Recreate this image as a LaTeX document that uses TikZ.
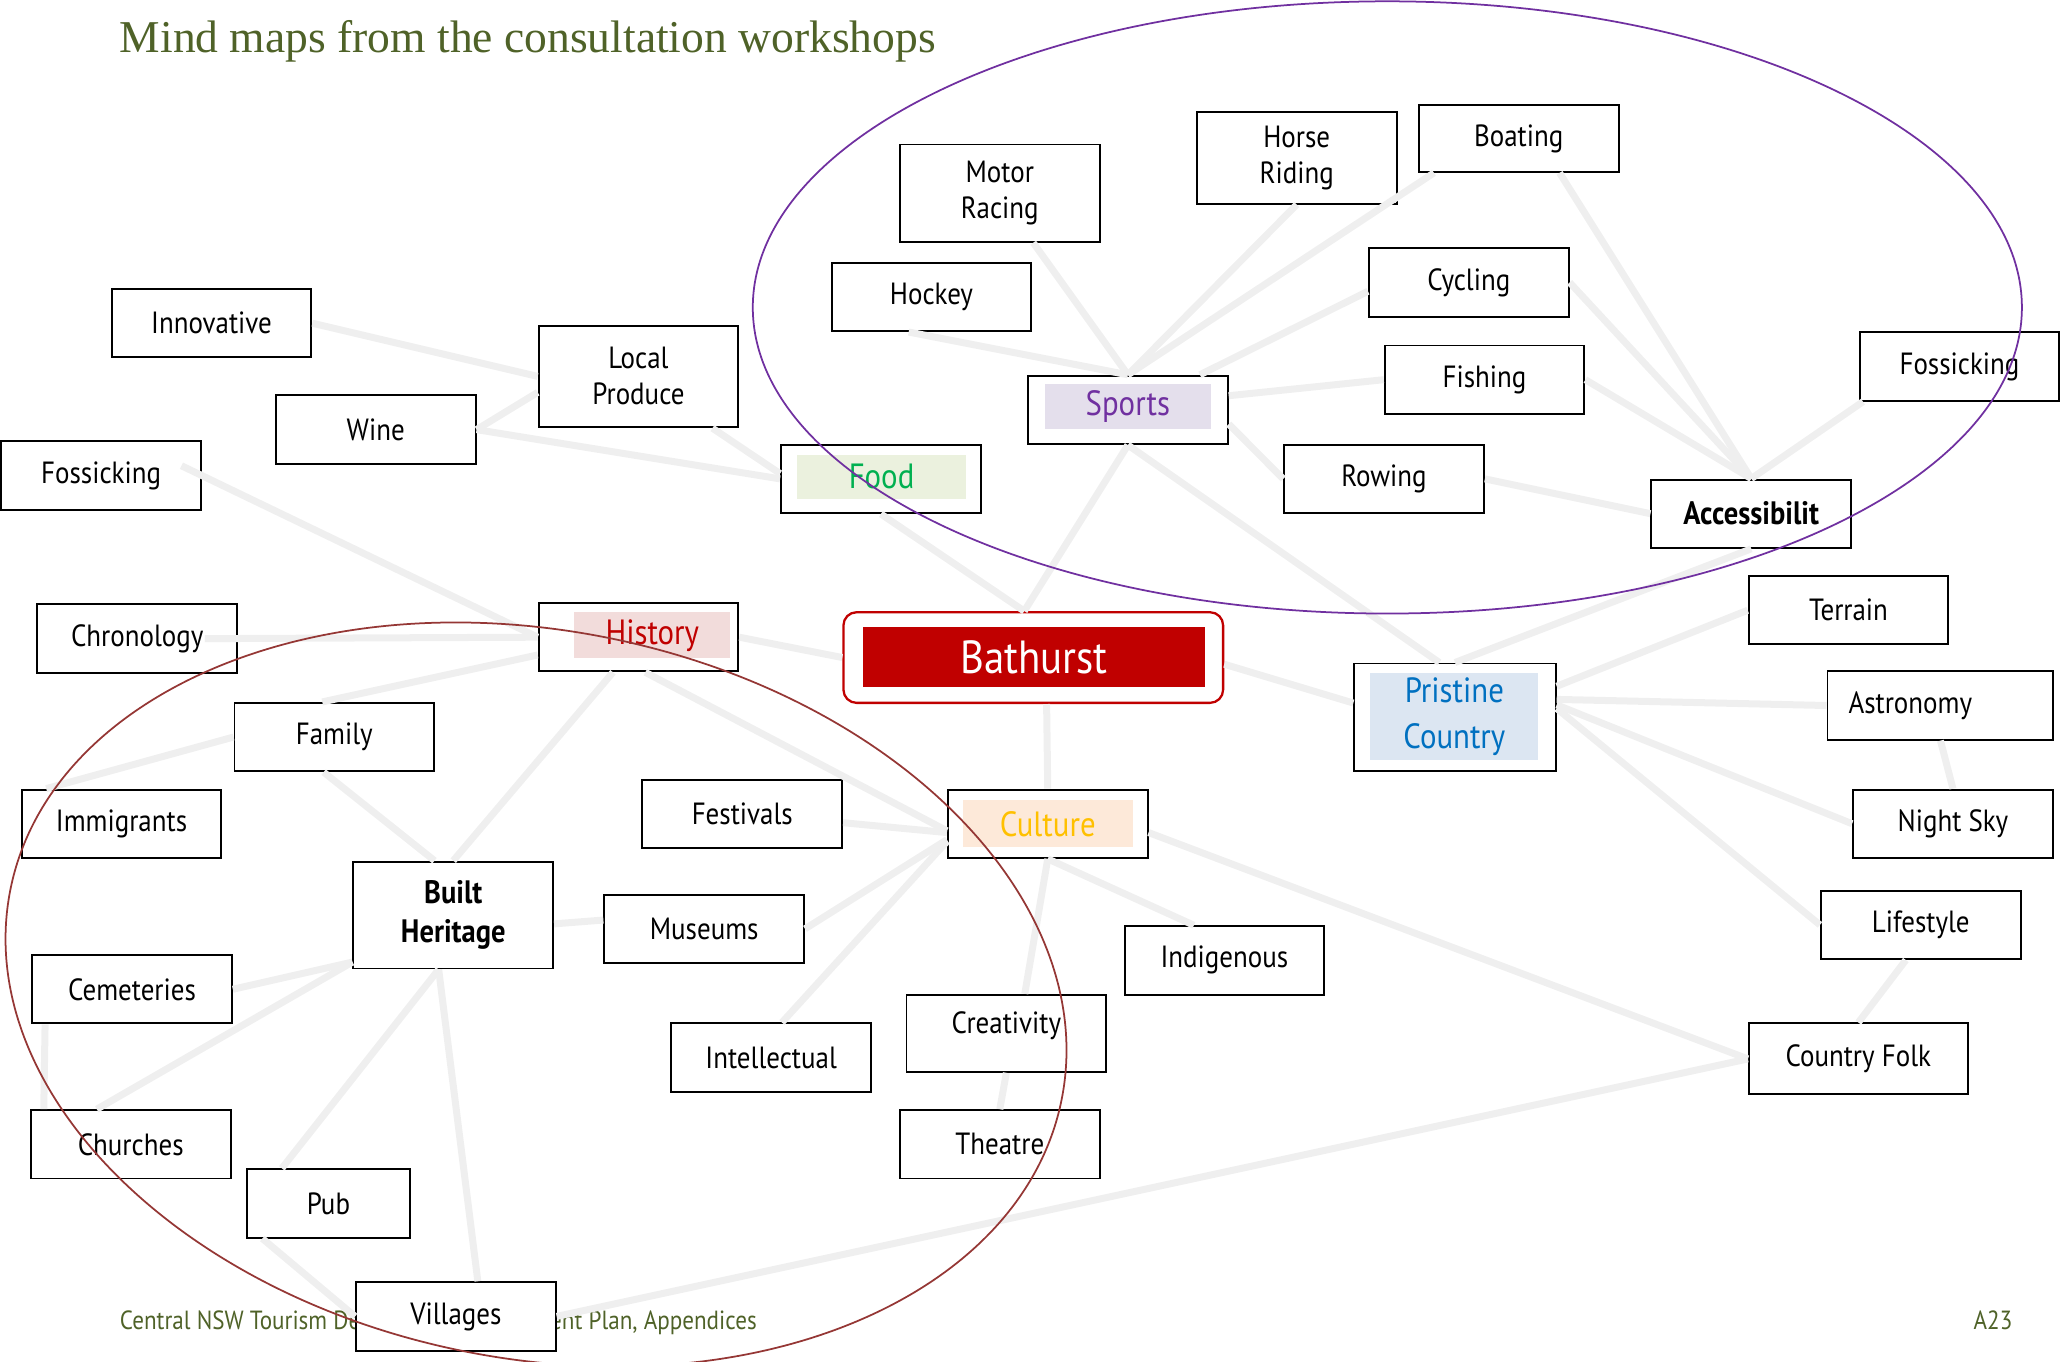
\documentclass[tikz,border=0pt]{standalone}
\usepackage{fontspec}
\setmainfont{PT Sans}[FakeStretch=0.88]
\newfontfamily\titlefont{Liberation Serif}

\definecolor{linkgrey}{HTML}{EFEFEF}
\definecolor{olive}{HTML}{4F6228}
\definecolor{sportsfill}{HTML}{E4DFEC}
\definecolor{sportstext}{HTML}{7030A0}
\definecolor{foodfill}{HTML}{EBF1DE}
\definecolor{foodtext}{HTML}{00B050}
\definecolor{historyfill}{HTML}{F2DCDB}
\definecolor{historytext}{HTML}{C00000}
\definecolor{culturefill}{HTML}{FDE9D9}
\definecolor{culturetext}{HTML}{FFC000}
\definecolor{pristinefill}{HTML}{DCE6F2}
\definecolor{pristinetext}{HTML}{0070C0}
\definecolor{bathred}{HTML}{C00000}
\definecolor{ringred}{HTML}{953735}

\tikzset{
  idea/.style={draw, fill=white, line width=1.1pt, minimum width=114pt,
    minimum height=39pt, inner sep=0pt, align=center,
    font=\fontsize{17.5}{20.5}\selectfont},
  keyidea/.style={idea, font=\fontsize{18.5}{22.5}\selectfont\bfseries},
  band/.style={fill=#1, inner sep=0pt, align=center,
    font=\fontsize{20}{26}\selectfont},
  link/.style={draw=linkgrey, line width=4pt},
  ring/.style={draw=#1, line width=1pt},
  pagetext/.style={anchor=base west, inner sep=0pt, text=olive},
}

\begin{document}
\begin{tikzpicture}[x=0.75pt, y=-0.75pt]
  \useasboundingbox (0,0) rectangle (1568,1036);

  \node[pagetext, font=\titlefont\fontsize{26}{30}\selectfont]
    (title) at (91,40) {Mind maps from the consultation workshops};
  \node[pagetext, font=\fontsize{15}{17}\selectfont]
    (footer) at (91,1012) {Central NSW Tourism Destination Management Plan, Appendices};
  \node[pagetext, font=\fontsize{15}{17}\selectfont]
    (page) at (1502,1012) {A23};

  % sports cluster
  \node[idea, minimum height=55.5pt] (motor) at (761,147) {Motor\\Racing};
  \node[idea, minimum height=52.5pt] (horse) at (987,120) {Horse\\Riding};
  \node[idea, minimum height=38pt] (boat) at (1156,105.5) {Boating};
  \node[idea] (hockey) at (709,226) {Hockey};
  \node[idea] (cycle) at (1118,215) {Cycling};
  \node[idea] (fish) at (1130,289) {Fishing};
  \node[idea] (rowing) at (1053.5,364.5) {Rowing};
  \node[idea] (fossR) at (1491.5,279) {Fossicking};
  \node[keyidea] (access) at (1333,391) {Accessibilit};
  \node[idea] (sports) at (858.5,312) {};
  \node[band=sportsfill, text=sportstext, minimum width=95pt, minimum height=26pt]
    (sportsIn) at (858.5,309.5) {Sports};

  % food cluster
  \node[idea] (innov) at (161,246) {Innovative};
  \node[idea, minimum height=58pt] (prod) at (486,286.5) {Local\\Produce};
  \node[idea] (wine) at (286,327) {Wine};
  \node[idea] (food) at (670.5,364.5) {};
  \node[band=foodfill, text=foodtext, minimum width=96pt, minimum height=25.5pt]
    (foodIn) at (671,363) {Food};

  % history cluster
  \node[idea] (fossL) at (77,362) {Fossicking};
  \node[idea] (chrono) at (104.5,486) {Chronology};
  \node[idea] (history) at (486,485) {};
  \node[band=historyfill, text=historytext, minimum width=89pt, minimum height=26pt]
    (historyIn) at (496.5,483.5) {History};
  \node[idea] (family) at (254.5,561) {Family};
  \node[idea] (immig) at (92.5,627) {Immigrants};
  \node[keyidea, minimum height=61pt] (built) at (345,696.5) {Built\\Heritage};
  \node[idea] (cemet) at (100.5,753) {Cemeteries};
  \node[idea] (church) at (99.5,871) {Churches};
  \node[idea, minimum width=93pt] (pub) at (250,916) {Pub};
  \node[idea] (village) at (347,1002) {Villages};

  % culture cluster
  \node[idea] (fest) at (565,619.5) {Festivals};
  \node[idea] (museum) at (536,707) {Museums};
  \node[idea] (intel) at (587,805) {Intellectual};
  \node[idea] (culture) at (797.5,627) {};
  \node[band=culturefill, text=culturetext, minimum width=97pt, minimum height=27pt]
    (cultureIn) at (797.5,627) {Culture};
  \node[idea] (indig) at (932,731) {Indigenous};
  \node[idea, minimum height=44pt, text depth=12pt] (creat) at (766,786.5) {Creativity};
  \node[idea] (theatre) at (761,871) {Theatre};

  % country cluster
  \node[idea] (terrain) at (1407,464.5) {Terrain};
  \node[idea, minimum width=115pt, minimum height=61.5pt] (pristine) at (1107.5,546) {};
  \node[band=pristinefill, text=pristinetext, minimum width=96pt, minimum height=50pt]
    (pristineIn) at (1107,545.5) {Pristine\\Country};
  \node[idea, inner xsep=12pt, text width=105pt, align=left] (astro) at (1477,537) {Astronomy};
  \node[idea] (nightsky) at (1486.5,627) {Night Sky};
  \node[idea] (life) at (1462,704) {Lifestyle};
  \node[idea, minimum width=125pt, minimum height=40.5pt] (folk) at (1414.5,806) {Country Folk};

  % centre
  \node[draw=bathred, fill=white, line width=1.3pt, rounded corners=7.5pt,
    minimum width=216.75pt, minimum height=51.75pt] (bath) at (786.5,500.5) {};
  \node[fill=bathred, text=white, inner sep=0pt, minimum width=195pt,
    minimum height=34.5pt, font=\fontsize{26.5}{30}\selectfont]
    (bathIn) at (787,500) {Bathurst};

  % links
  \draw[link] (innov.east) -- (prod.west);
  \draw[link] (wine.east) -- (prod.189);
  \draw[link] (wine.east) -- (food.west);
  \draw[link] (prod.-35) -- (food.177);
  \draw[link, shorten <=-13pt] (fossL.east) -- (history.west);
  \draw[link, shorten <=-19pt] (chrono.east) -- (history.west);
  \draw[link] (family.109) -- (history.190);
  \draw[link] (family.west) -- (immig.155);
  \draw[link] (family.-107) -- (built.109);
  \draw[link] (history.-126) -- (built.north);
  \draw[link] (history.-79) -- (culture.184);
  \draw[link] (history.east) -- (bath.west);
  \draw[link] (food.south) -- (bath.101);
  \draw[link] (sports.south) -- (bath.101);
  \draw[link] (sports.south) -- (pristine.106);
  \draw[link] (motor.-56) -- (sports.north);
  \draw[link] (hockey.-123) -- (sports.north);
  \draw[link] (horse.south) -- (sports.north);
  \draw[link] (boat.-158) -- (sports.north);
  \draw[link] (cycle.185) -- (sports.26);
  \draw[link] (fish.west) -- (sports.8);
  \draw[link] (rowing.west) -- (sports.-8);
  \draw[link] (rowing.east) -- (access.west);
  \draw[link] (boat.-40) -- (access.north);
  \draw[link] (cycle.east) -- (access.north);
  \draw[link] (fish.east) -- (access.north);
  \draw[link] (fossR.-160) -- (access.north);
  \draw[link] (access.south) -- (pristine.north);
  \draw[link] (terrain.west) -- (pristine.17);
  \draw[link] (astro.west) -- (pristine.10);
  \draw[link] (nightsky.west) -- (pristine.7);
  \draw[link] (life.west) -- (pristine.5);
  \draw[link] (astro.south) -- (nightsky.north);
  \draw[link] (life.-113) -- (folk.north);
  \draw[link] (culture.-5) -- (folk.west);
  \draw[link] (village.east) -- (folk.west);
  \draw[link] (bath.-2) -- (pristine.172);
  \draw[link] (bath.-74) -- (culture.north);
  \draw[link] (fest.-5) -- (culture.185);
  \draw[link] (museum.east) -- (culture.189);
  \draw[link] (intel.73) -- (culture.190);
  \draw[link] (creat.65) -- (culture.south);
  \draw[link] (indig.131) -- (culture.south);
  \draw[link] (creat.south) -- (theatre.north);
  \draw[link] (built.-5) -- (museum.175);
  \draw[link] (cemet.east) -- (built.205);
  \draw[link] (church.134) -- (built.205);
  \draw[link] (cemet.-158) -- (church.158);
  \draw[link] (built.-105) -- (pub.143);
  \draw[link] (built.-105) -- (village.58);
  \draw[link] (pub.-152) -- (village.west);

  % workshop groupings
  \draw[ring=sportstext] (1056,234) ellipse [x radius=483, y radius=233];
  \draw[ring=ringred] (408,757) ellipse [x radius=408, y radius=277, rotate=-11.3];
\end{tikzpicture}
\end{document}
